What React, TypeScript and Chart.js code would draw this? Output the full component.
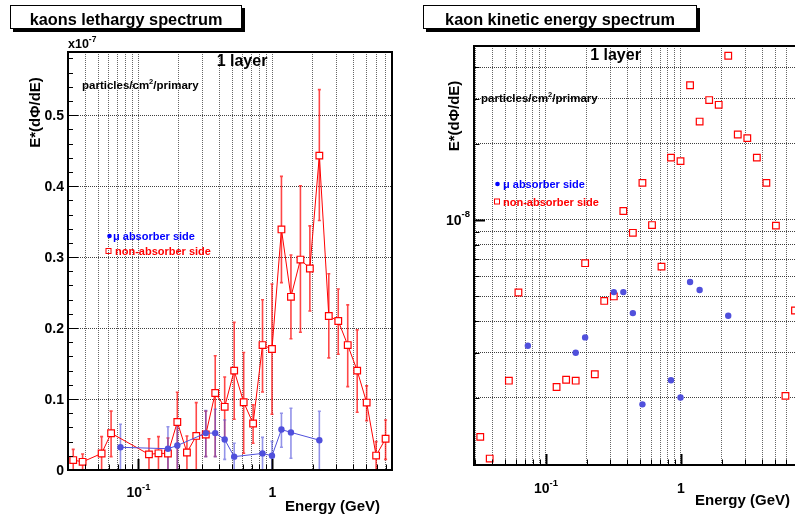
import React, { useEffect, useRef } from "react";
import { Chart, registerables } from "chart.js";
Chart.register(...registerables);

// ---------- data (lethargy E*dPhi/dE, units of 1e-7 particles/cm2/primary) ----------
const RED_E = [0.0326, 0.0383, 0.0531, 0.0625, 0.1198, 0.141, 0.166, 0.195, 0.230, 0.270, 0.318, 0.374, 0.440, 0.518, 0.610, 0.717, 0.843, 0.992, 1.167, 1.374, 1.617, 1.902, 2.238, 2.633, 3.098, 3.645, 4.289, 5.046, 5.937, 6.985];
const RED_V = [0.014, 0.0115, 0.0233, 0.0518, 0.022, 0.0235, 0.0233, 0.0676, 0.0247, 0.048, 0.050, 0.1085, 0.089, 0.140, 0.0955, 0.0655, 0.176, 0.1705, 0.339, 0.244, 0.2965, 0.284, 0.443, 0.217, 0.210, 0.176, 0.140, 0.095, 0.0203, 0.044];
const RED_LO = [0, 0, 0, 0.0188, 0, 0, 0, 0, 0, 0, 0.019, 0.019, 0.0447, 0.0715, 0.0235, 0.0376, 0.110, 0.0785, 0.264, 0.185, 0.194, 0.224, 0.3516, 0.158, 0.163, 0.1175, 0.0814, 0.0696, 0, 0.015];
const RED_HI = [0.029, 0.0226, 0.047, 0.083, 0.044, 0.047, 0.045, 0.1096, 0.048, 0.095, 0.083, 0.161, 0.131, 0.208, 0.1655, 0.0917, 0.240, 0.262, 0.4137, 0.303, 0.4006, 0.344, 0.536, 0.2765, 0.255, 0.2327, 0.1975, 0.1185, 0.040, 0.0705];

const BLUE_E = [0.0734, 0.166, 0.195, 0.318, 0.374, 0.440, 0.518, 0.843, 0.992, 1.167, 1.374, 2.238];
const BLUE_V = [0.032, 0.030, 0.0345, 0.052, 0.052, 0.043, 0.0188, 0.0234, 0.020, 0.057, 0.053, 0.042];
const BLUE_LO = [0, 0, 0, 0.0188, 0.0188, 0.015, 0, 0, 0, 0.032, 0.0165, 0];
const BLUE_HI = [0.0644, 0.061, 0.068, 0.0837, 0.0856, 0.0705, 0.0376, 0.046, 0.0404, 0.080, 0.087, 0.0828];

const UNIT = 1e-7;

// ---------- axes / ticks ----------
const X_TICKS = [0.03, 0.04, 0.05, 0.06, 0.07, 0.08, 0.09, 0.1, 0.2, 0.3, 0.4, 0.5, 0.6, 0.7, 0.8, 0.9, 1, 2, 3, 4, 5, 6, 7];
const X_MAJOR = [0.1, 1];
const X_LABELS: Array<[number, string, string]> = [[0.1, "10", "-1"], [1, "1", ""]];
const Y_TICKS_LIN = [0, 0.1, 0.2, 0.3, 0.4, 0.5];
const Y_LABELS_LIN = ["0", "0.1", "0.2", "0.3", "0.4", "0.5"];
const Y_TICKS_LOG = [2e-9, 3e-9, 4e-9, 5e-9, 6e-9, 7e-9, 8e-9, 9e-9, 1e-8, 2e-8, 3e-8, 4e-8];

const X_MIN_L = 0.0298, X_MAX_L = 7.8, Y_MAX_L = 0.589;
const X_MIN_R = 0.0293, X_MAX_R = 7.61, Y_MIN_R = 1.085e-9, Y_MAX_R = 4.84e-8;

const RED = "#ff0000";
const BLUE = "#5050dc";
const FONT = '"Liberation Sans", Arial, Helvetica, sans-serif';
const bold = (s: number) => `bold ${s}px ${FONT}`;

function runs(ctx: CanvasRenderingContext2D, parts: Array<[string, number, number]>, x: number, y: number, align: string) {
  let total = 0;
  for (const [t, s] of parts) { ctx.font = bold(s); total += ctx.measureText(t).width; }
  let cx = align === "center" ? x - total / 2 : align === "right" ? x - total : x;
  ctx.textAlign = "left";
  ctx.textBaseline = "alphabetic";
  for (const [t, s, dy] of parts) { ctx.font = bold(s); ctx.fillText(t, cx, y + dy); cx += ctx.measureText(t).width; }
}

function titleBox(ctx: CanvasRenderingContext2D, x0: number, y0: number, x1: number, y1: number, text: string) {
  ctx.fillStyle = "#000";
  ctx.fillRect(x0 + 3, y0 + 3, x1 - x0, y1 - y0);
  ctx.fillStyle = "#fff";
  ctx.fillRect(x0, y0, x1 - x0, y1 - y0);
  ctx.strokeStyle = "#000";
  ctx.lineWidth = 1;
  ctx.strokeRect(x0 + 0.5, y0 + 0.5, x1 - x0 - 1, y1 - y0 - 1);
  ctx.fillStyle = "#000";
  ctx.font = bold(16.3);
  ctx.textAlign = "center";
  ctx.textBaseline = "alphabetic";
  ctx.fillText(text, (x0 + x1) / 2, 25);
}

function vTitle(ctx: CanvasRenderingContext2D, x: number, y: number, text: string) {
  ctx.save();
  ctx.translate(x, y);
  ctx.rotate(-Math.PI / 2);
  ctx.fillStyle = "#000";
  ctx.font = bold(15);
  ctx.textAlign = "center";
  ctx.textBaseline = "alphabetic";
  ctx.fillText(text, 0, 0);
  ctx.restore();
}

function legend(ctx: CanvasRenderingContext2D, bx: number, by: number, btx: number, rx: number, ry: number, rtx: number) {
  ctx.fillStyle = "#0000ff";
  ctx.beginPath(); ctx.arc(bx, by, 2.3, 0, Math.PI * 2); ctx.fill();
  runs(ctx, [["\u03bc absorber side", 11, 0]], btx, by + 4, "left");
  ctx.strokeStyle = RED; ctx.lineWidth = 1;
  ctx.strokeRect(rx - 2.5, ry - 2.5, 5, 5);
  ctx.fillStyle = RED;
  runs(ctx, [["non-absorber side", 11, 0]], rtx, ry + 4, "left");
}

function xAxisDecor(ctx: CanvasRenderingContext2D, chart: any, labelY: number) {
  const xs = chart.scales.x; const ca = chart.chartArea;
  ctx.strokeStyle = "#000";
  for (const v of X_TICKS) {
    const major = X_MAJOR.includes(v);
    const px = Math.round(xs.getPixelForValue(v)) + 0.5;
    if (px < ca.left || px > ca.right) continue;
    ctx.lineWidth = major ? 2 : 1;
    ctx.beginPath(); ctx.moveTo(px, ca.bottom); ctx.lineTo(px, ca.bottom - (major ? 11 : 5.5)); ctx.stroke();
  }
  ctx.fillStyle = "#000";
  for (const [v, base, sup] of X_LABELS) {
    const px = xs.getPixelForValue(v);
    const parts: Array<[string, number, number]> = [[base, 14, 0]];
    if (sup) parts.push([sup, 9.5, -7]);
    runs(ctx, parts, px, labelY, "center");
  }
}

function errorBars(sets: any[]) {
  return {
    id: "errbars",
    beforeDatasetsDraw(chart: any) {
      const { ctx, chartArea: ca } = chart;
      const xs = chart.scales.x, ys = chart.scales.y;
      ctx.save();
      ctx.beginPath(); ctx.rect(ca.left, ca.top, ca.right - ca.left, ca.bottom - ca.top); ctx.clip();
      for (const s of sets) {
        ctx.strokeStyle = s.color; ctx.lineWidth = 1.6;
        s.e.forEach((e: number, i: number) => {
          const px = xs.getPixelForValue(e);
          const yl = ys.getPixelForValue(s.lo[i]);
          const yh = ys.getPixelForValue(s.hi[i]);
          ctx.beginPath();
          ctx.moveTo(px, yl); ctx.lineTo(px, yh);
          ctx.moveTo(px - 1.5, yh); ctx.lineTo(px + 1.5, yh);
          ctx.moveTo(px - 1.5, yl); ctx.lineTo(px + 1.5, yl);
          ctx.stroke();
        });
      }
      ctx.restore();
    },
  };
}

const leftDecor = {
  id: "leftDecor",
  afterDraw(chart: any) {
    const { ctx, chartArea: ca } = chart;
    const ys = chart.scales.y;
    ctx.save();
    titleBox(ctx, 10, 5, 242, 29, "kaons lethargy spectrum");
    ctx.strokeStyle = "#000"; ctx.lineWidth = 2;
    ctx.strokeRect(ca.left, ca.top, ca.right - ca.left, ca.bottom - ca.top);
    for (let k = 0; k <= 29; k++) {
      const v = k * 0.02;
      if (v > Y_MAX_L) break;
      const major = k % 5 === 0;
      const py = Math.round(ys.getPixelForValue(v)) + 0.5;
      ctx.lineWidth = 1;
      ctx.beginPath(); ctx.moveTo(ca.left, py); ctx.lineTo(ca.left + (major ? 10 : 5), py); ctx.stroke();
    }
    ctx.fillStyle = "#000";
    Y_TICKS_LIN.forEach((v, i) => runs(ctx, [[Y_LABELS_LIN[i], 14, 0]], 64, ys.getPixelForValue(v) + 5, "right"));
    xAxisDecor(ctx, chart, 497);
    ctx.fillStyle = "#000";
    runs(ctx, [["x10", 12.5, 0], ["-7", 8.5, -6]], 68, 48, "left");
    runs(ctx, [["1 layer", 16, 0]], 242, 66, "center");
    runs(ctx, [["particles/cm", 11.5, 0], ["2", 7.5, -5], ["/primary", 11.5, 0]], 82, 89, "left");
    runs(ctx, [["Energy (GeV)", 15, 0]], 380, 511, "right");
    vTitle(ctx, 40, 112.5, "E*(d\u03a6/dE)");
    legend(ctx, 109.5, 236, 113, 108.5, 251, 115);
    ctx.restore();
  },
};

const rightDecor = {
  id: "rightDecor",
  afterDraw(chart: any) {
    const { ctx, chartArea: ca } = chart;
    const ys = chart.scales.y;
    ctx.save();
    titleBox(ctx, 23, 5, 297, 29, "kaon kinetic energy spectrum");
    ctx.strokeStyle = "#000"; ctx.lineWidth = 2;
    ctx.strokeRect(ca.left, ca.top, ca.right - ca.left, ca.bottom - ca.top);
    for (const v of Y_TICKS_LOG) {
      const major = v === 1e-8;
      const py = Math.round(ys.getPixelForValue(v)) + 0.5;
      ctx.lineWidth = major ? 2 : 1;
      ctx.beginPath(); ctx.moveTo(ca.left, py); ctx.lineTo(ca.left + (major ? 11 : 5.5), py); ctx.stroke();
    }
    ctx.fillStyle = "#000";
    runs(ctx, [["10", 14, 0], ["-8", 9.5, -8]], 70, ys.getPixelForValue(1e-8) + 5, "right");
    xAxisDecor(ctx, chart, 493);
    ctx.fillStyle = "#000";
    runs(ctx, [["1 layer", 16, 0]], 215.5, 60, "center");
    runs(ctx, [["particles/cm", 11.5, 0], ["2", 7.5, -5], ["/primary", 11.5, 0]], 81, 102, "left");
    runs(ctx, [["Energy (GeV)", 15, 0]], 390, 505, "right");
    vTitle(ctx, 59, 116, "E*(d\u03a6/dE)");
    legend(ctx, 97.5, 184, 103, 97, 201.5, 103);
    ctx.restore();
  },
};

function gridOpts(alpha: number) {
  return {
    grid: { color: `rgba(0,0,0,${alpha})`, lineWidth: 1, drawTicks: false },
    border: { display: false, dash: [1, 1] },
    ticks: { display: false },
  };
}

function leftConfig(): any {
  return {
    type: "line",
    data: {
      datasets: [
        {
          data: BLUE_E.map((e, i) => ({ x: e, y: BLUE_V[i] })),
          borderColor: BLUE, backgroundColor: BLUE, borderWidth: 1, tension: 0,
          pointStyle: "circle", pointRadius: 3.2, pointBackgroundColor: BLUE, pointBorderColor: BLUE, pointBorderWidth: 0,
        },
        {
          data: RED_E.map((e, i) => ({ x: e, y: RED_V[i] })),
          borderColor: RED, backgroundColor: RED, borderWidth: 1, tension: 0,
          pointStyle: "rect", pointRadius: 4.7, pointBackgroundColor: "#fff", pointBorderColor: RED, pointBorderWidth: 1.2,
        },
      ],
    },
    options: {
      responsive: false, animation: false, devicePixelRatio: 1,
      layout: { padding: { left: 0, top: 52, right: 8, bottom: 0 } },
      plugins: { legend: { display: false }, tooltip: { enabled: false } },
      scales: {
        x: {
          type: "logarithmic", min: X_MIN_L, max: X_MAX_L, ...gridOpts(0.6),
          afterBuildTicks: (s: any) => { s.ticks = X_TICKS.map((v) => ({ value: v })); },
          afterFit: (s: any) => { s.height = 53; },
        },
        y: {
          type: "linear", min: 0, max: Y_MAX_L, ...gridOpts(0.75),
          afterBuildTicks: (s: any) => { s.ticks = Y_TICKS_LIN.map((v) => ({ value: v })); },
          afterFit: (s: any) => { s.width = 68; },
        },
      },
    },
    plugins: [
      errorBars([
        { e: RED_E, lo: RED_LO, hi: RED_HI, color: "rgba(255,0,0,0.72)" },
        { e: BLUE_E, lo: BLUE_LO, hi: BLUE_HI, color: "rgba(80,80,220,0.62)" },
      ]),
      leftDecor,
    ],
  };
}

function rightConfig(): any {
  return {
    type: "line",
    data: {
      datasets: [
        {
          data: BLUE_E.map((e, i) => ({ x: e, y: BLUE_V[i] * UNIT })),
          showLine: false, borderColor: BLUE, backgroundColor: BLUE,
          pointStyle: "circle", pointRadius: 3.2, pointBackgroundColor: BLUE, pointBorderColor: BLUE, pointBorderWidth: 0,
        },
        {
          data: RED_E.map((e, i) => ({ x: e, y: RED_V[i] * UNIT })),
          showLine: false, borderColor: RED, backgroundColor: RED,
          pointStyle: "rect", pointRadius: 4.7, pointBackgroundColor: "#fff", pointBorderColor: RED, pointBorderWidth: 1.2,
        },
      ],
    },
    options: {
      responsive: false, animation: false, devicePixelRatio: 1,
      layout: { padding: { left: 0, top: 46, right: 10, bottom: 0 } },
      plugins: { legend: { display: false }, tooltip: { enabled: false } },
      scales: {
        x: {
          type: "logarithmic", min: X_MIN_R, max: X_MAX_R, ...gridOpts(0.6),
          afterBuildTicks: (s: any) => { s.ticks = X_TICKS.map((v) => ({ value: v })); },
          afterFit: (s: any) => { s.height = 58; },
        },
        y: {
          type: "logarithmic", min: Y_MIN_R, max: Y_MAX_R, ...gridOpts(0.75),
          afterBuildTicks: (s: any) => { s.ticks = Y_TICKS_LOG.map((v) => ({ value: v })); },
          afterFit: (s: any) => { s.width = 74; },
        },
      },
    },
    plugins: [rightDecor],
  };
}

export default function App() {
  const leftRef = useRef<HTMLCanvasElement>(null);
  const rightRef = useRef<HTMLCanvasElement>(null);
  useEffect(() => {
    const c1 = new Chart(leftRef.current as HTMLCanvasElement, leftConfig());
    const c2 = new Chart(rightRef.current as HTMLCanvasElement, rightConfig());
    return () => { c1.destroy(); c2.destroy(); };
  }, []);
  return (
    <div style={{ position: "fixed", left: 0, top: 0, width: 795, height: 523, overflow: "hidden", background: "#fff" }}>
      <canvas ref={leftRef} width={400} height={523} style={{ position: "absolute", left: 0, top: 0, width: 400, height: 523 }} />
      <canvas ref={rightRef} width={410} height={523} style={{ position: "absolute", left: 400, top: 0, width: 410, height: 523 }} />
    </div>
  );
}
